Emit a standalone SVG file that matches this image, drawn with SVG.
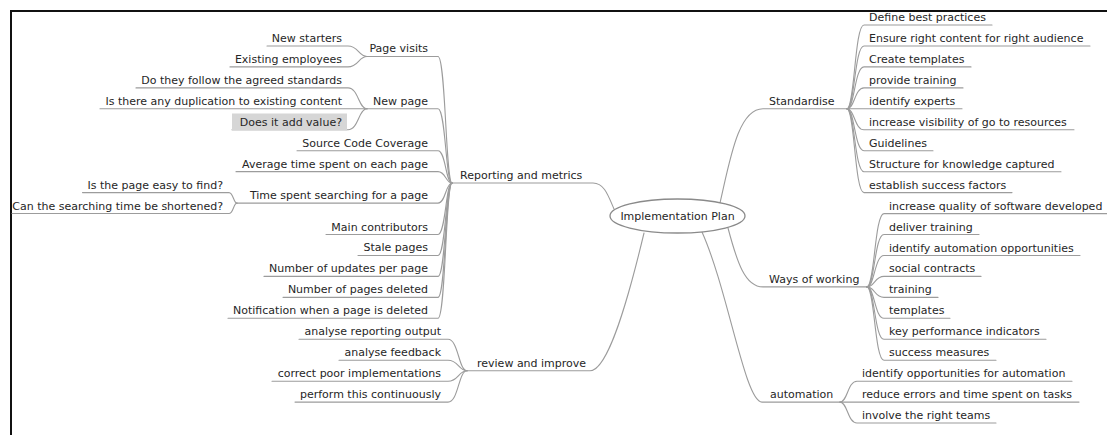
<svg xmlns="http://www.w3.org/2000/svg" width="1107" height="435" viewBox="0 0 1107 435">
  <style>
    text { font-family: "DejaVu Sans", "Liberation Sans", sans-serif; font-size: 11px; fill: #262626; }
    .l { text-anchor: end; }
    .c { text-anchor: middle; }
    #connectors path { fill: none; stroke: #9c9c9c; stroke-width: 1.1; stroke-linecap: round; }
    .frame { fill: none; stroke: #111; stroke-width: 2; }
    .hub { fill: #fff; stroke: #8a8a8a; stroke-width: 1.3; }
    .hl { fill: #d6d6d6; }
  </style>

  <rect width="1107" height="435" fill="#fff"/>
  <path class="frame" d="M 11 436 V 11 H 1108"/>

  <g id="connectors">
    <!-- hub to main branches (curve + underline up to the fork point) -->
    <path d="M 614 209 C 608 195, 604 183, 593 183 H 452"/>
    <path d="M 644 233 C 628 300, 608 370.7, 590 370.7 H 467"/>
    <path d="M 720 203 C 730 160, 738 108.8, 763 108.8 H 847"/>
    <path d="M 728 228 C 737 262, 745 286.9, 763 286.9 H 867"/>
    <path d="M 702 232 C 728 290, 745 402.1, 762 402.1 H 840"/>

    <!-- Reporting and metrics: fork at 452,183 -->
    <path d="M 367 56.45 H 438 C 445.7 56.45, 445.7 183, 452 183"/>
    <path d="M 367 108.8 H 438 C 445.7 108.8, 445.7 183, 452 183"/>
    <path d="M 297 150.7 H 438 C 445.7 150.7, 445.7 183, 452 183"/>
    <path d="M 236 171.65 H 438 C 445.7 171.65, 445.7 183, 452 183"/>
    <path d="M 237 203.1 H 438 C 445.7 203.1, 445.7 183, 452 183"/>
    <path d="M 326 234.5 H 438 C 445.7 234.5, 445.7 183, 452 183"/>
    <path d="M 358 255.45 H 438 C 445.7 255.45, 445.7 183, 452 183"/>
    <path d="M 264 276.4 H 438 C 445.7 276.4, 445.7 183, 452 183"/>
    <path d="M 283 297.35 H 438 C 445.7 297.35, 445.7 183, 452 183"/>
    <path d="M 228 318.3 H 438 C 445.7 318.3, 445.7 183, 452 183"/>

    <!-- Page visits: fork at 367,56.45 -->
    <path d="M 267 46 H 348 C 358.5 46, 358.5 56.45, 367 56.45"/>
    <path d="M 230 66.9 H 348 C 358.5 66.9, 358.5 56.45, 367 56.45"/>

    <!-- New page: fork at 367,108.8 -->
    <path d="M 136 87.9 H 348 C 358.5 87.9, 358.5 108.8, 367 108.8"/>
    <path d="M 100 108.8 H 348 C 358.5 108.8, 358.5 108.8, 367 108.8"/>
    <path d="M 232 129.8 H 348 C 358.5 129.8, 358.5 108.8, 367 108.8"/>

    <!-- Time spent searching: fork at 237,203.1 -->
    <path d="M 82.5 192.6 H 229 C 233.4 192.6, 233.4 203.1, 237 203.1"/>
    <path d="M 12 213.55 H 229 C 233.4 213.55, 233.4 203.1, 237 203.1"/>

    <!-- review and improve: fork at 467,370.7 -->
    <path d="M 299 339.3 H 448 C 458.5 339.3, 458.5 370.7, 467 370.7"/>
    <path d="M 339 360.2 H 448 C 458.5 360.2, 458.5 370.7, 467 370.7"/>
    <path d="M 272 381.2 H 448 C 458.5 381.2, 458.5 370.7, 467 370.7"/>
    <path d="M 295 402.1 H 448 C 458.5 402.1, 458.5 370.7, 467 370.7"/>

    <!-- Standardise: fork at 847,108.8 -->
    <path d="M 847 108.8 C 854.6 108.8, 854.6 25, 864 25 H 992"/>
    <path d="M 847 108.8 C 854.6 108.8, 854.6 46, 864 46 H 1090"/>
    <path d="M 847 108.8 C 854.6 108.8, 854.6 66.9, 864 66.9 H 971"/>
    <path d="M 847 108.8 C 854.6 108.8, 854.6 87.9, 864 87.9 H 963"/>
    <path d="M 847 108.8 C 854.6 108.8, 854.6 108.8, 864 108.8 H 962"/>
    <path d="M 847 108.8 C 854.6 108.8, 854.6 129.8, 864 129.8 H 1074"/>
    <path d="M 847 108.8 C 854.6 108.8, 854.6 150.7, 864 150.7 H 933"/>
    <path d="M 847 108.8 C 854.6 108.8, 854.6 171.7, 864 171.7 H 1061"/>
    <path d="M 847 108.8 C 854.6 108.8, 854.6 192.6, 864 192.6 H 1012"/>

    <!-- Ways of working: fork at 867,286.9 -->
    <path d="M 867 286.9 C 874.6 286.9, 874.6 213.6, 884 213.6 H 1110"/>
    <path d="M 867 286.9 C 874.6 286.9, 874.6 234.5, 884 234.5 H 979"/>
    <path d="M 867 286.9 C 874.6 286.9, 874.6 255.5, 884 255.5 H 1080"/>
    <path d="M 867 286.9 C 874.6 286.9, 874.6 276.4, 884 276.4 H 981"/>
    <path d="M 867 286.9 C 874.6 286.9, 874.6 297.4, 884 297.4 H 938"/>
    <path d="M 867 286.9 C 874.6 286.9, 874.6 318.3, 884 318.3 H 950"/>
    <path d="M 867 286.9 C 874.6 286.9, 874.6 339.3, 884 339.3 H 1046"/>
    <path d="M 867 286.9 C 874.6 286.9, 874.6 360.2, 884 360.2 H 996"/>

    <!-- automation: fork at 840,402.1 -->
    <path d="M 840 402.1 C 847.6 402.1, 847.6 381.2, 857 381.2 H 1072"/>
    <path d="M 840 402.1 C 847.6 402.1, 847.6 402.1, 857 402.1 H 1079"/>
    <path d="M 840 402.1 C 847.6 402.1, 847.6 423, 857 423 H 996"/>
  </g>

  <!-- central topic -->
  <g id="implementation-plan">
    <ellipse class="hub" cx="677.5" cy="216" rx="67.5" ry="17"/>
    <text class="c" x="677.5" y="220">Implementation Plan</text>
  </g>

  <!-- left side -->
  <g id="reporting-and-metrics"><text x="460" y="179">Reporting and metrics</text></g>
  <g id="page-visits"><text class="l" x="428" y="52.45">Page visits</text></g>
  <g id="new-starters"><text class="l" x="342" y="42">New starters</text></g>
  <g id="existing-employees"><text class="l" x="342" y="62.9">Existing employees</text></g>
  <g id="new-page"><text class="l" x="428" y="104.8">New page</text></g>
  <g id="agreed-standards"><text class="l" x="342" y="83.9">Do they follow the agreed standards</text></g>
  <g id="duplication"><text class="l" x="342" y="104.8">Is there any duplication to existing content</text></g>
  <g id="add-value">
    <rect class="hl" x="232" y="113.5" width="115" height="17"/>
    <text class="l" x="342" y="125.8">Does it add value?</text>
  </g>
  <g id="source-code-coverage"><text class="l" x="428" y="146.7">Source Code Coverage</text></g>
  <g id="average-time"><text class="l" x="428" y="167.65">Average time spent on each page</text></g>
  <g id="time-searching"><text class="l" x="428" y="199.1">Time spent searching for a page</text></g>
  <g id="easy-to-find"><text class="l" x="223" y="188.6">Is the page easy to find?</text></g>
  <g id="searching-shortened"><text class="l" x="223" y="209.55">Can the searching time be shortened?</text></g>
  <g id="main-contributors"><text class="l" x="428" y="230.5">Main contributors</text></g>
  <g id="stale-pages"><text class="l" x="428" y="251.45">Stale pages</text></g>
  <g id="updates-per-page"><text class="l" x="428" y="272.4">Number of updates per page</text></g>
  <g id="pages-deleted"><text class="l" x="428" y="293.35">Number of pages deleted</text></g>
  <g id="deletion-notification"><text class="l" x="428" y="314.3">Notification when a page is deleted</text></g>

  <g id="review-and-improve"><text x="477" y="366.7">review and improve</text></g>
  <g id="analyse-reporting"><text class="l" x="441" y="335.3">analyse reporting output</text></g>
  <g id="analyse-feedback"><text class="l" x="441" y="356.2">analyse feedback</text></g>
  <g id="correct-implementations"><text class="l" x="441" y="377.2">correct poor implementations</text></g>
  <g id="perform-continuously"><text class="l" x="441" y="398.1">perform this continuously</text></g>

  <!-- right side -->
  <g id="standardise"><text x="769" y="104.8">Standardise</text></g>
  <g id="best-practices"><text x="869" y="21">Define best practices</text></g>
  <g id="right-content"><text x="869" y="42">Ensure right content for right audience</text></g>
  <g id="create-templates"><text x="869" y="62.9">Create templates</text></g>
  <g id="provide-training"><text x="869" y="83.9">provide training</text></g>
  <g id="identify-experts"><text x="869" y="104.8">identify experts</text></g>
  <g id="resource-visibility"><text x="869" y="125.8">increase visibility of go to resources</text></g>
  <g id="guidelines"><text x="869" y="146.7">Guidelines</text></g>
  <g id="knowledge-structure"><text x="869" y="167.7">Structure for knowledge captured</text></g>
  <g id="success-factors"><text x="869" y="188.6">establish success factors</text></g>

  <g id="ways-of-working"><text x="769" y="282.9">Ways of working</text></g>
  <g id="software-quality"><text x="889" y="209.6">increase quality of software developed</text></g>
  <g id="deliver-training"><text x="889" y="230.5">deliver training</text></g>
  <g id="automation-opportunities"><text x="889" y="251.5">identify automation opportunities</text></g>
  <g id="social-contracts"><text x="889" y="272.4">social contracts</text></g>
  <g id="training"><text x="889" y="293.4">training</text></g>
  <g id="templates"><text x="889" y="314.3">templates</text></g>
  <g id="kpis"><text x="889" y="335.3">key performance indicators</text></g>
  <g id="success-measures"><text x="889" y="356.2">success measures</text></g>

  <g id="automation"><text x="770" y="398.1">automation</text></g>
  <g id="automation-candidates"><text x="862" y="377.2">identify opportunities for automation</text></g>
  <g id="reduce-errors"><text x="862" y="398.1">reduce errors and time spent on tasks</text></g>
  <g id="right-teams"><text x="862" y="419">involve the right teams</text></g>
</svg>
